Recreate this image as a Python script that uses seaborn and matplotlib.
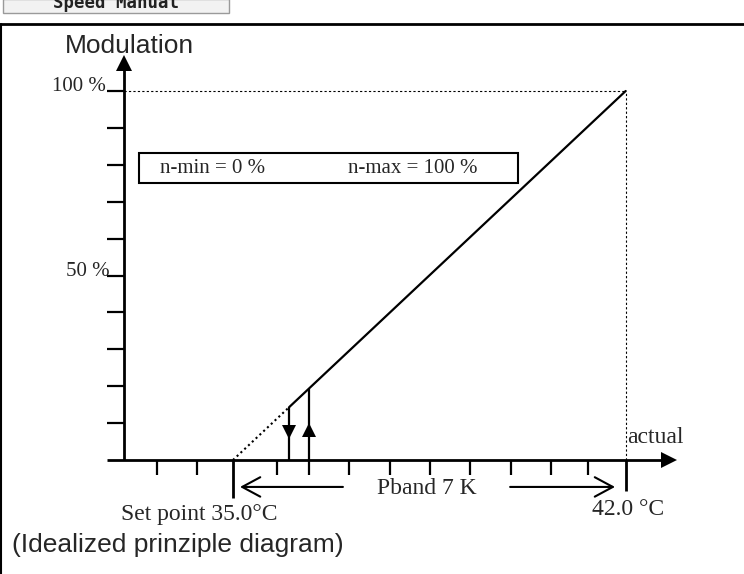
import matplotlib
matplotlib.use("Agg")
import matplotlib.pyplot as plt
from matplotlib.patches import Rectangle
import seaborn as sns

# values
setpoint = 35.0          # °C
end_temp = 42.0          # °C (setpoint + Pband)
pband = 7
n_min = 0
n_max = 100

# control characteristic (temperature -> modulation %)
line_temp = [35.0, 36.0, 42.0]
line_mod = [0.0, 14.3, 100.0]

# hysteresis switch off / on
off_temp, off_mod = 36.0, 14.3
on_temp, on_mod = 36.35, 19.3

# axis ticks
x_ticks = [33.65, 34.36, 35.78, 37.07, 37.8, 38.51, 39.23, 39.96, 40.67, 41.33]
y_ticks = [10, 20, 30, 40, 50, 60, 70, 80, 90, 100]
y_labels = {100: "100 %", 50: "50 %"}

# layout of the drawing (data units)
axis_x = 33.05
axis_left = 32.76
x_arrow = 42.78
y_arrow = 107.7
tick_len = 4.2

sns.set_style("white")
serif = "Liberation Serif"
sans = "Liberation Sans"

fig = plt.figure(figsize=(7.44, 5.74), dpi=100)
ax = fig.add_axes([0, 0, 1, 1])
ax.set_xlim(30.847, 44.109)
ax.set_ylim(-30.894, 124.661)
ax.axis("off")

k = "black"

# axes of the diagram
ax.plot([axis_left, x_arrow - 0.1], [0, 0], color=k, lw=2.0, solid_capstyle="butt")
ax.plot([axis_x, axis_x], [0, y_arrow - 1], color=k, lw=2.0, solid_capstyle="butt")
ax.plot([x_arrow], [0], marker=">", ms=11, color=k, mec=k, mew=0)
ax.plot([axis_x], [y_arrow], marker="^", ms=11, color=k, mec=k, mew=0)

# ticks
ax.vlines(x_ticks, -tick_len, 0, color=k, lw=1.6)
ax.vlines([setpoint], -10.3, 0, color=k, lw=2.0)
ax.vlines([end_temp], -8.4, 0, color=k, lw=2.0)
ax.hlines(y_ticks, axis_left, axis_x, color=k, lw=1.6)

# dotted guides to 100 % / 42 °C
ax.plot([axis_x, end_temp], [n_max, n_max], color=k, lw=0.8, ls=(0, (2, 2)))
ax.plot([end_temp, end_temp], [0, n_max], color=k, lw=0.8, ls=(0, (2, 2)))

# characteristic
sns.lineplot(x=line_temp[:2], y=line_mod[:2], ax=ax, color=k, lw=1.5, ls=(0, (1, 1.5)))
sns.lineplot(x=line_temp[1:], y=line_mod[1:], ax=ax, color=k, lw=1.6)

# hysteresis arrows
ax.vlines([off_temp], 0, off_mod, color=k, lw=1.6)
ax.vlines([on_temp], -tick_len, on_mod, color=k, lw=1.6)
ax.plot([off_temp], [7.6], marker="v", ms=10, color=k, mew=0)
ax.plot([on_temp], [8.0], marker="^", ms=10, color=k, mew=0)

# Pband arrows
arrow_kw = dict(arrowstyle="->,head_length=1.3,head_width=0.7", color=k, lw=1.5,
                shrinkA=0, shrinkB=0, mutation_scale=10)
ax.annotate("", xy=(35.125, -7.3), xytext=(36.96, -7.3), arrowprops=arrow_kw)
ax.annotate("", xy=(41.81, -7.3), xytext=(39.94, -7.3), arrowprops=arrow_kw)
ax.text(38.46, -7.6, f"Pband {pband} K", family=serif, fontsize=17, ha="center", va="center")

# labels
for val, lab in y_labels.items():
    ax.text(axis_left - 0.02 if val == 100 else axis_left + 0.05, val, lab,
            family=serif, fontsize=15, ha="right", va="baseline")
ax.text(32.0, 110.3, "Modulation", family=sans, fontsize=19, ha="left", va="baseline")
ax.text(42.02, 4.6, "actual", family=serif, fontsize=17, ha="left", va="baseline")
ax.text(34.40, -16.3, f"Set point {setpoint:.1f}°C", family=serif, fontsize=17,
        ha="center", va="baseline")
ax.text(42.04, -14.9, f"{end_temp:.1f} °C", family=serif, fontsize=17,
        ha="center", va="baseline")
ax.text(31.06, -24.9, "(Idealized prinziple diagram)", family=sans, fontsize=19,
        ha="left", va="baseline")

# n-min / n-max box
ax.add_patch(Rectangle((33.324, 75.1), 40.08 - 33.324, 83.2 - 75.1,
                       fill=False, edgecolor=k, lw=1.5))
ax.text(33.70, 77.8, f"n-min = {n_min} %", family=serif, fontsize=15, ha="left", va="baseline")
ax.text(37.05, 77.8, f"n-max = {n_max} %", family=serif, fontsize=15, ha="left", va="baseline")

# window frame and button at the top
frame_y = 1 - 24 / 574
ax.plot([0, 1], [frame_y, frame_y], transform=ax.transAxes, color=k, lw=2.0, clip_on=False)
ax.plot([0.001, 0.001], [0, frame_y], transform=ax.transAxes, color=k, lw=1.5, clip_on=False)
ax.add_patch(Rectangle((3 / 744, 1 - 13 / 574), 226 / 744, 14 / 574, transform=ax.transAxes,
                       facecolor="#f2f2f2", edgecolor="#9a9a9a", lw=1.0, clip_on=False))
ax.text(116 / 744, 1 - 8.5 / 574, "Speed Manual", transform=ax.transAxes,
        family="DejaVu Sans Mono", fontweight="bold", fontsize=12.5,
        ha="center", va="baseline", color="#222222")

fig.savefig("out.png", dpi=100)
